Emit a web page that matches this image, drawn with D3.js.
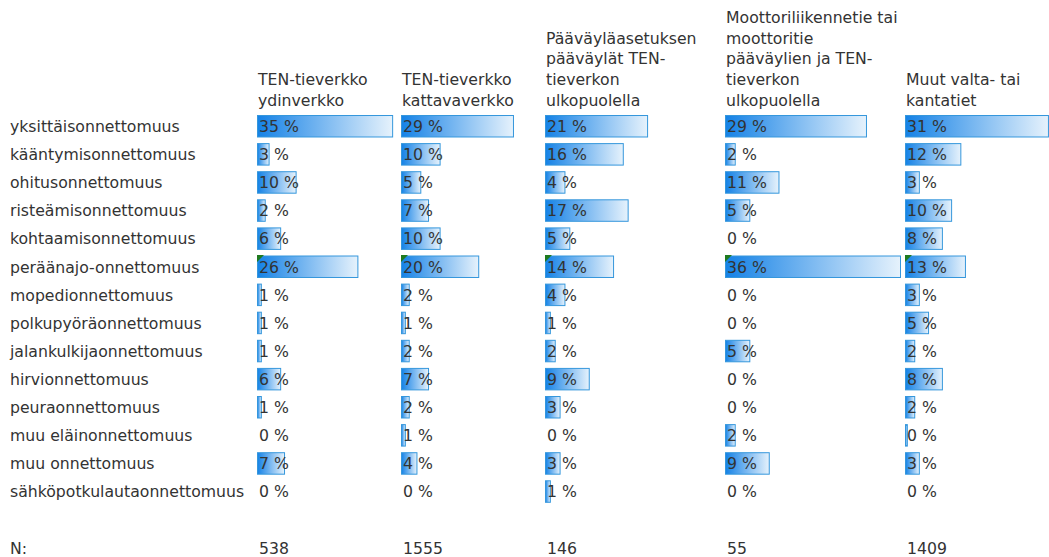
<!DOCTYPE html>
<html>
<head>
<meta charset="utf-8">
<script src="https://cdn.jsdelivr.net/npm/d3@7"></script>
<style>
  html, body { margin: 0; padding: 0; background: #fff; }
  svg { display: block; }
  text { font-family: "DejaVu Sans", Verdana, sans-serif; font-size: 15.7px; fill: #333; }
</style>
</head>
<body>
<svg id="chart" width="1049" height="557"></svg>
<script>
// Accident types (row labels)
const categories = [
  "yksittäisonnettomuus",
  "kääntymisonnettomuus",
  "ohitusonnettomuus",
  "risteämisonnettomuus",
  "kohtaamisonnettomuus",
  "peräänajo-onnettomuus",
  "mopedionnettomuus",
  "polkupyöräonnettomuus",
  "jalankulkijaonnettomuus",
  "hirvionnettomuus",
  "peuraonnettomuus",
  "muu eläinonnettomuus",
  "muu onnettomuus",
  "sähköpotkulautaonnettomuus"
];

// Road network groups (column headers, one array of lines each)
const groups = [
  ["TEN-tieverkko", "ydinverkko"],
  ["TEN-tieverkko", "kattavaverkko"],
  ["Pääväyläasetuksen", "pääväylät TEN-", "tieverkon", "ulkopuolella"],
  ["Moottoriliikennetie tai", "moottoritie", "pääväylien ja TEN-", "tieverkon", "ulkopuolella"],
  ["Muut valta- tai", "kantatiet"]
];

// Share of accidents (%) per type, one array per road group
const tenCore      = [35, 3, 10, 2, 6, 26, 1, 1, 1, 6, 1, 0, 7, 0];
const tenComp      = [29, 10, 5, 7, 10, 20, 2, 1, 2, 7, 2, 1, 4, 0];
const mainOutside  = [21, 16, 4, 17, 5, 14, 4, 1, 2, 9, 3, 0, 3, 1];
const motorOutside = [29, 2, 11, 5, 0, 36, 0, 0, 5, 0, 0, 2, 9, 0];
const otherMain    = [31, 12, 3, 10, 8, 13, 3, 5, 2, 8, 2, 0.4, 3, 0];
const seriesValues = [tenCore, tenComp, mainOutside, motorOutside, otherMain];

// Number of accidents per group
const nLabel = "N:";
const nValues = [538, 1555, 146, 55, 1409];

// Rows carrying a flag marker
const flaggedRows = ["peräänajo-onnettomuus"];

// ---- layout ----
const colLeft  = [258, 402, 546, 726, 906];
const colInner = [139, 139, 175, 175, 166];
const labelX = 10;

const svg = d3.select("#chart");

const defs = svg.append("defs");
const grad = defs.append("linearGradient")
  .attr("id", "barFill")
  .attr("x1", "0%").attr("x2", "100%").attr("y1", "0%").attr("y2", "0%");
grad.append("stop").attr("offset", "0%").attr("stop-color", "#1582e6");
grad.append("stop").attr("offset", "100%").attr("stop-color", "#e6f2fc");

// rows: categories, one blank row, then the N row
const rowKeys = categories.concat(["__blank", "__n"]);
const y = d3.scaleBand()
  .domain(rowKeys)
  .range([112.2, 112.2 + rowKeys.length * 28.1])
  .paddingInner(0.2)
  .paddingOuter(0.1);

const maxVal = d3.max(seriesValues.flat());
const xScales = colInner.map(w => d3.scaleLinear().domain([0, maxVal]).range([0, w]));
const fmt = v => d3.format(".0f")(v) + " %";

const textDy = 5.8;

// row labels
svg.append("g").selectAll("text")
  .data(categories.concat([nLabel]))
  .join("text")
  .attr("x", labelX)
  .attr("y", (d, i) => y(i < categories.length ? d : "__n") + y.bandwidth() / 2 + textDy)
  .text(d => d);

// column headers (bottom aligned)
const headerBase = 105.5;
const lineH = 20.6;
groups.forEach((lines, c) => {
  const t = svg.append("text").attr("x", colLeft[c]);
  lines.forEach((ln, k) => {
    t.append("tspan")
      .attr("x", colLeft[c])
      .attr("y", headerBase - (lines.length - 1 - k) * lineH)
      .text(ln);
  });
});

// bars and value labels
seriesValues.forEach((vals, c) => {
  const g = svg.append("g");
  const x = xScales[c];
  const rows = vals.map((v, i) => ({ cat: categories[i], v }));

  g.selectAll("rect")
    .data(rows.filter(d => d.v > 0))
    .join("rect")
    .attr("x", colLeft[c] - 0.5)
    .attr("y", d => y(d.cat) + 0.5)
    .attr("width", d => Math.max(1, x(d.v)))
    .attr("height", y.bandwidth() - 1)
    .attr("fill", "url(#barFill)")
    .attr("stroke", "#3597dc")
    .attr("stroke-width", 1);

  g.selectAll("path.flag")
    .data(rows.filter(d => flaggedRows.includes(d.cat)))
    .join("path")
    .attr("class", "flag")
    .attr("d", d => {
      const x0 = colLeft[c] - 1, y0 = y(d.cat) - 0.5;
      return `M${x0},${y0}h7l-7,7z`;
    })
    .attr("fill", "#1f7a1f");

  g.selectAll("text")
    .data(rows)
    .join("text")
    .attr("x", colLeft[c] + 1)
    .attr("y", d => y(d.cat) + y.bandwidth() / 2 + textDy)
    .text(d => fmt(d.v));

  svg.append("text")
    .attr("x", colLeft[c] + 1)
    .attr("y", y("__n") + y.bandwidth() / 2 + textDy)
    .text(nValues[c]);
});
</script>
</body>
</html>
